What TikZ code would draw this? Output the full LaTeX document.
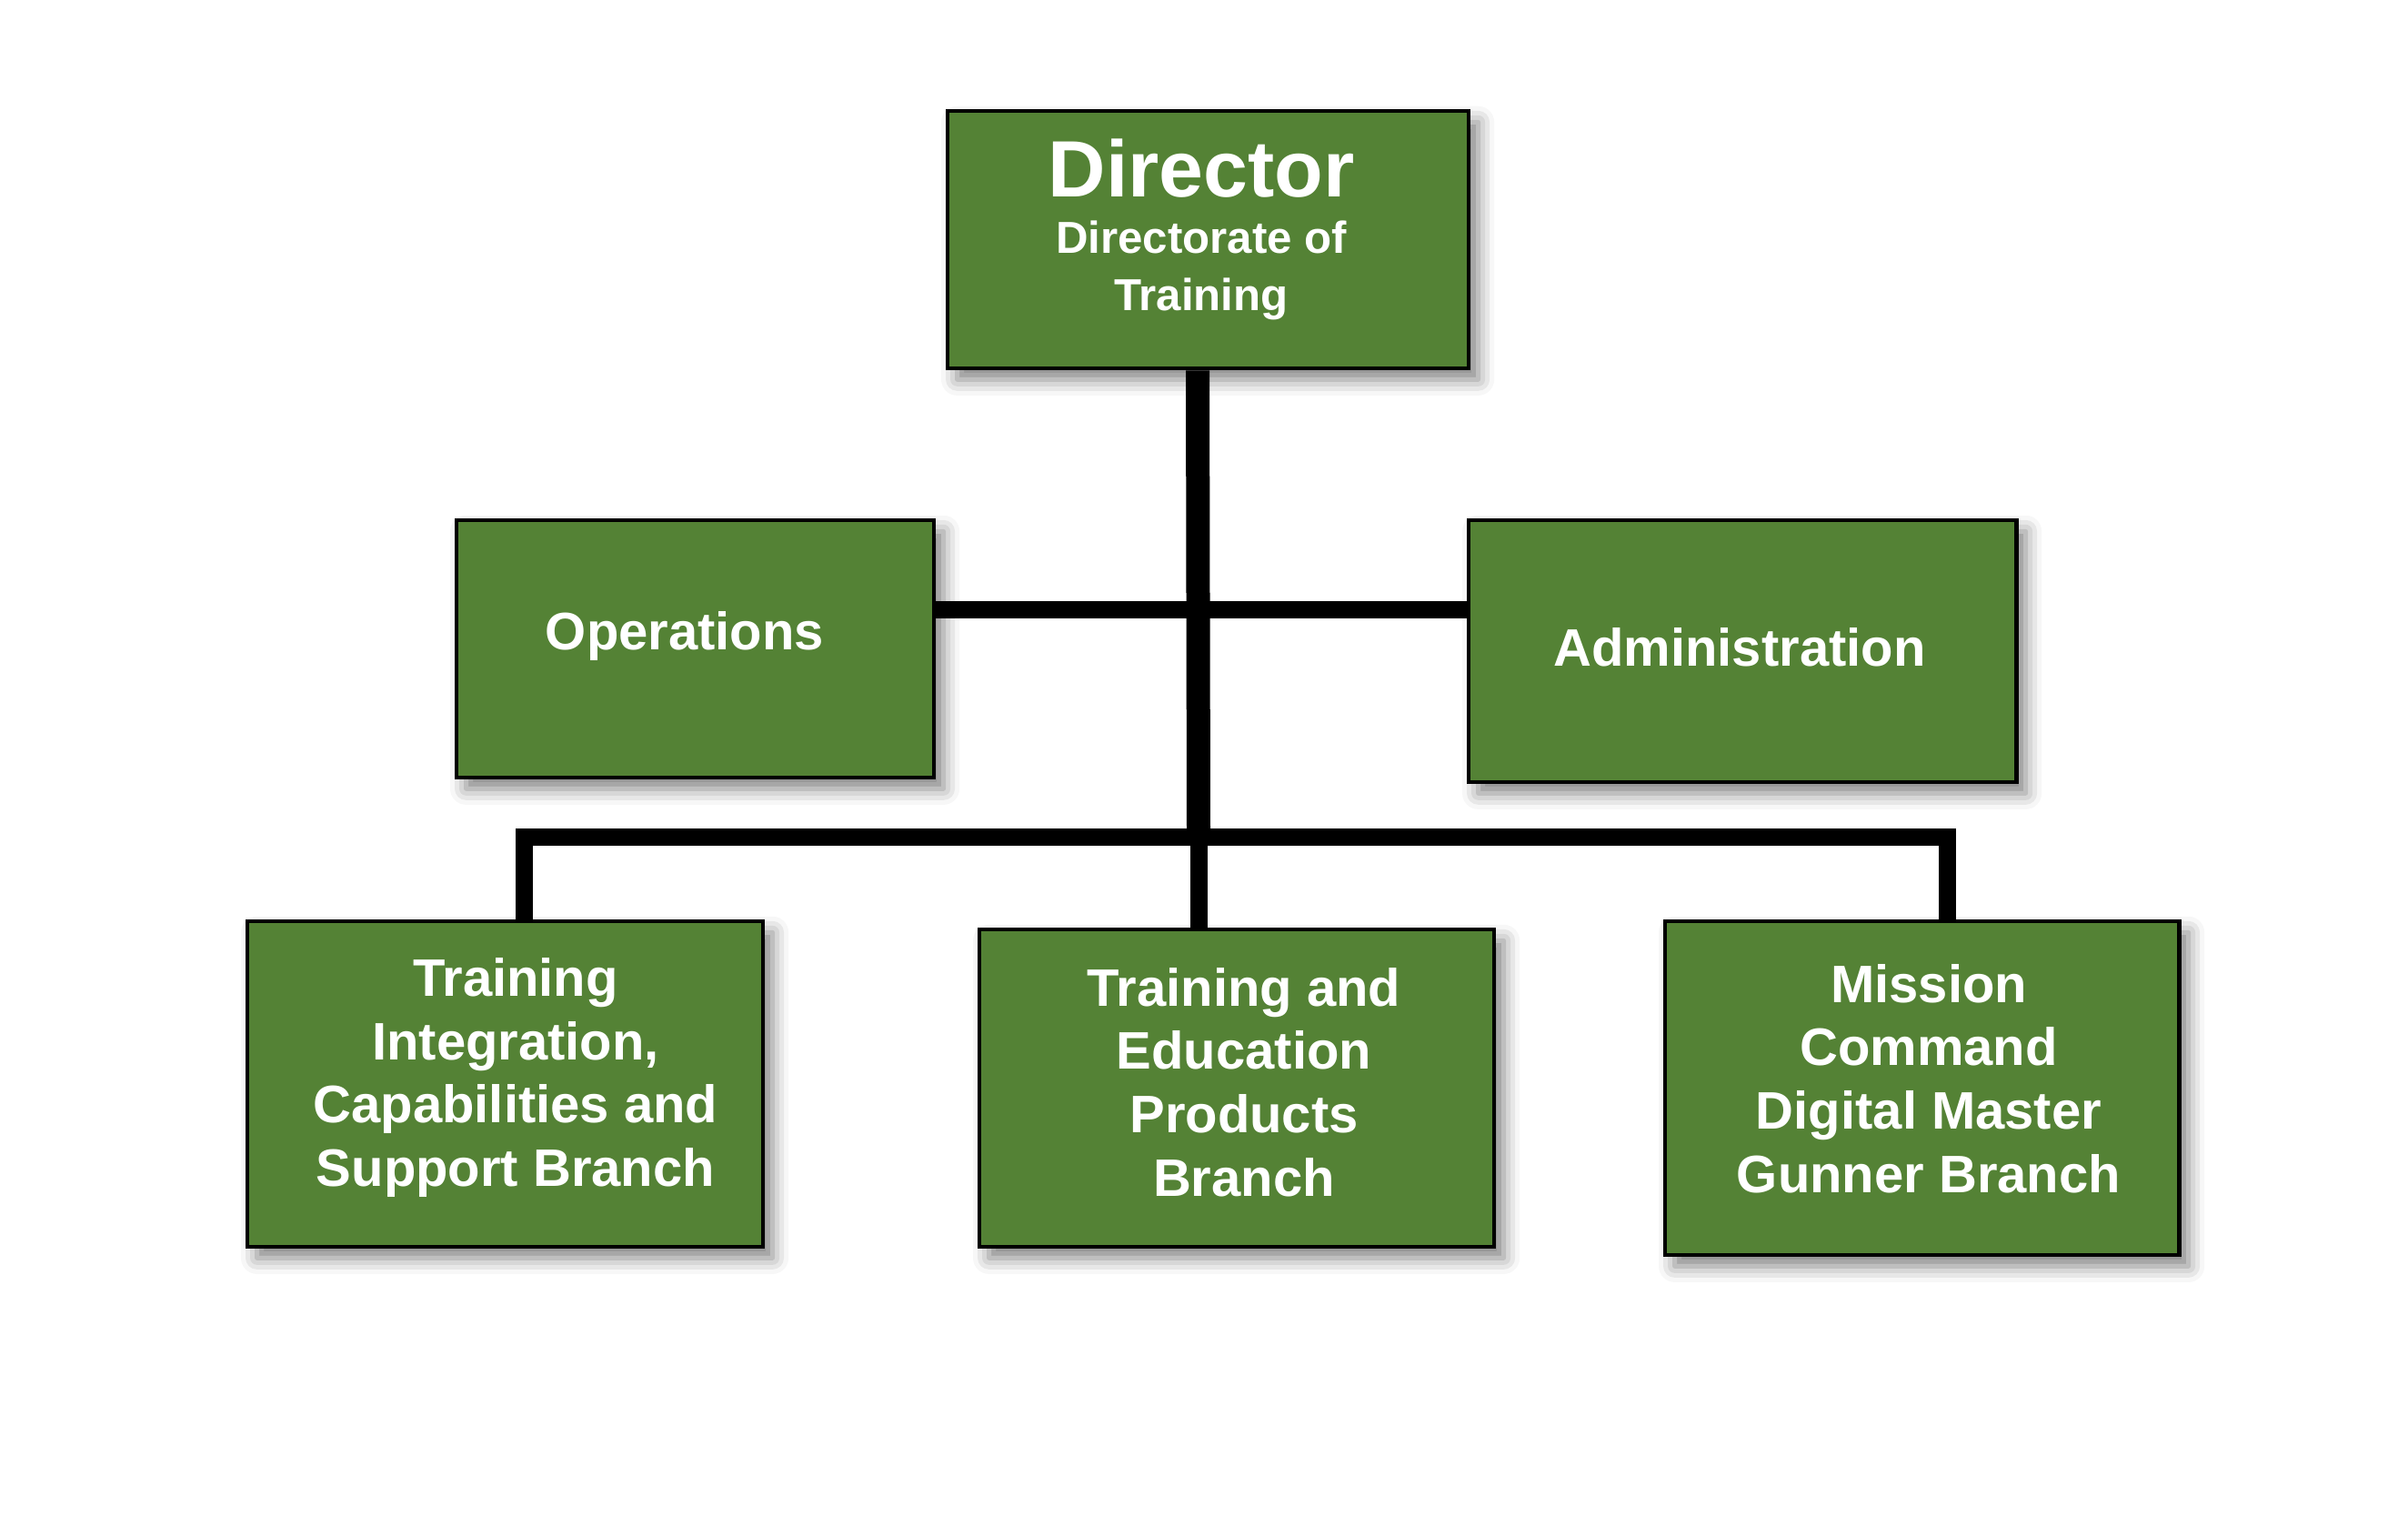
\documentclass[tikz,border=0pt]{standalone}
\usepackage{fontspec}
\setmainfont{Liberation Sans}
\usepackage{tikz}
\usetikzlibrary{positioning, calc, shadows.blur}
\usepackage{xcolor}
\definecolor{unitgreen}{RGB}{84,130,53}

\begin{document}
\begin{tikzpicture}[
    unit/.style={draw=black, line width=1.4pt, fill=unitgreen, inner sep=0pt,
      blur shadow={shadow xshift=3pt, shadow yshift=-3.5pt, shadow blur radius=5pt, shadow opacity=50}},
    lbl/.style={text=white, align=center, font=\bfseries\fontsize{16.5}{19.8}\selectfont},
    trunk/.style={line width=0.26cm, line join=miter},
    link/.style={line width=0.19cm, line join=miter}
  ]
  \useasboundingbox (0,0) rectangle (26.48,-16.88);

  % boxes
  \node[unit, minimum width=5.73cm, minimum height=2.83cm] (dir) at (13.285,-2.635) {};
  \node[unit, minimum width=5.25cm, minimum height=2.83cm] (ops) at (7.645,-7.135) {};
  \node[unit, minimum width=6.02cm, minimum height=2.88cm] (adm) at (19.16,-7.16) {};
  \node[unit, minimum width=5.67cm, minimum height=3.58cm] (tics) at (5.555,-11.92) {};
  \node[unit, minimum width=5.66cm, minimum height=3.49cm] (tep) at (13.60,-11.965) {};
  \node[unit, minimum width=5.65cm, minimum height=3.67cm] (mcd) at (21.135,-11.965) {};

  % labels
  \node[lbl] (dirT) at (13.21,-2.52) {{\fontsize{25}{28}\selectfont Director}\\[-2pt]
    {\fontsize{14}{17.3}\selectfont Directorate of}\\[-2pt]
    {\fontsize{14}{17.3}\selectfont Training}};
  \node[lbl] (opsT) at (7.53,-6.99) {Operations};
  \node[lbl] (admT) at (19.13,-7.12) {Administration};
  \node[lbl] (ticsT) at (5.67,-11.85) {Training\\Integration,\\Capabilities and\\Support Branch};
  \node[lbl] (tepT) at (13.68,-11.90) {Training and\\Education\\Products\\Branch};
  \node[lbl] (mcdT) at (21.21,-11.86) {Mission\\Command\\Digital Master\\Gunner Branch};

  % connectors
  \coordinate (hub) at (13.17,-6.70);
  \coordinate (fork) at (13.18,-9.20);
  \coordinate (dl) at (5.76,-9.20);
  \coordinate (dr) at (21.41,-9.20);
  \draw[trunk] (hub |- dir.south) -- (fork);
  \draw[link] (ops.east |- hub) -- (adm.west |- hub);
  \draw[link] (tics.north -| dl) -- (dl) -- (dr) -- (mcd.north -| dr);
  \draw[link] (fork) -- (tep.north -| fork);
\end{tikzpicture}
\end{document}
